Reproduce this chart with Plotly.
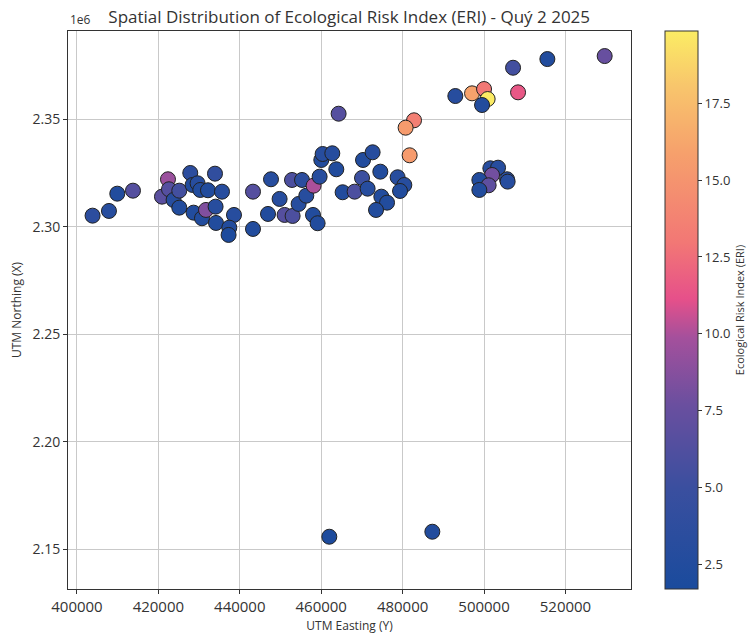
import plotly.graph_objects as go

# Sampling station coordinates (UTM) and their Ecological Risk Index values
easting = [
    403833, 407862, 409902, 413759, 422359, 420885, 422604, 423735, 425135, 425135,
    427838, 428403, 429631, 430295, 432187, 433907, 435627, 428649, 430713, 431696,
    434055, 434153, 438575, 437421, 437249, 443243, 443243,
    464275, 482801, 480737, 481720, 447666, 449779, 446929, 452826, 455283,
    451008, 452974, 454448, 456340, 458134, 459608, 457986, 459116, 460025,
    460345, 462728, 463711, 465259, 468207, 470025, 471401, 470271, 472630,
    474522, 474767, 476168, 473465, 478772, 480418, 479362,
    529633, 515553, 507126, 492949, 497052, 500000, 500885, 499509, 508354,
    501550, 503442, 501968, 498847, 505653, 501132, 498847, 505800,
    461989, 487297,
]
northing = [
    2305163, 2307350, 2315396, 2316791, 2322094, 2314001, 2317443, 2312466, 2316791, 2308885,
    2325024, 2319443, 2320234, 2317117, 2316977, 2324698, 2316326, 2306560, 2303955, 2307815,
    2309350, 2301769, 2305490, 2299583, 2296188, 2316326, 2298978,
    2352605, 2349535, 2346093, 2333256, 2322094, 2312932, 2305955, 2321768, 2321768,
    2305490, 2305025, 2310606, 2314466, 2319117, 2323303, 2305490, 2301630, 2331070,
    2333861, 2334186, 2326745, 2316047, 2316326, 2322698, 2317722, 2331070, 2334651,
    2325629, 2314001, 2311211, 2307815, 2323024, 2319443, 2316652,
    2379441, 2378046, 2373999, 2360837, 2362093, 2364093, 2359442, 2356651, 2362558,
    2327210, 2327489, 2324094, 2321768, 2322094, 2319303, 2317117, 2321000,
    2155728, 2158053,
]
eri = [
    3.5, 3.0, 2.5, 6.5, 9.5, 6.8, 6.5, 3.0, 5.5, 2.5,
    3.5, 2.5, 3.0, 2.5, 2.5, 4.0, 3.0, 2.5, 2.5, 8.5,
    3.0, 2.5, 3.0, 2.5, 2.0, 6.5, 2.5,
    6.5, 13.5, 15.5, 15.5, 3.0, 3.0, 2.5, 6.0, 3.5,
    6.5, 6.0, 3.0, 3.0, 10.0, 3.0, 2.5, 2.5, 2.5,
    3.0, 3.0, 2.5, 2.5, 6.0, 5.0, 3.0, 2.5, 3.0,
    2.5, 2.5, 2.5, 2.5, 3.0, 3.0, 2.5,
    7.5, 2.5, 5.5, 3.0, 16.0, 13.0, 19.8, 2.5, 11.5,
    3.0, 3.0, 8.0, 2.5, 3.0, 7.0, 2.5, 3.0,
    2.0, 2.5,
]

x_ticks = [400000, 420000, 440000, 460000, 480000, 500000, 520000]
y_ticks = [2.15e6, 2.20e6, 2.25e6, 2.30e6, 2.35e6]
y_tick_text = ["2.15", "2.20", "2.25", "2.30", "2.35"]
cbar_ticks = [2.5, 5.0, 7.5, 10.0, 12.5, 15.0, 17.5]

eri_scale = [
    [0.00, "#1a4b9d"],
    [0.18, "#3a4f9f"],
    [0.33, "#6a4f9f"],
    [0.45, "#a4509c"],
    [0.52, "#e6508a"],
    [0.62, "#f27775"],
    [0.78, "#f6a06c"],
    [0.90, "#f8c56c"],
    [1.00, "#fbec64"],
]

font_family = "Open Sans, Lato, DejaVu Sans, sans-serif"

fig = go.Figure(
    go.Scatter(
        x=easting,
        y=northing,
        mode="markers",
        marker=dict(
            size=15,
            color=eri,
            colorscale=eri_scale,
            cmin=1.7,
            cmax=19.85,
            line=dict(color="#222222", width=1),
            colorbar=dict(
                title=dict(text="Ecological Risk Index (ERI)", side="right",
                           font=dict(size=11, color="#333333")),
                tickvals=cbar_ticks,
                ticktext=[f"{v:.1f}" for v in cbar_ticks],
                ticks="outside",
                ticklen=4,
                tickcolor="#333333",
                tickfont=dict(size=13, color="#333333"),
                thickness=33,
                len=1.0,
                lenmode="fraction",
                x=1.061,
                xanchor="left",
                xpad=0,
                y=0.5,
                yanchor="middle",
                ypad=0,
                outlinecolor="#333333",
                outlinewidth=1,
            ),
        ),
        showlegend=False,
    )
)

axis_common = dict(
    showgrid=True,
    gridcolor="#c9c9c9",
    gridwidth=1,
    showline=True,
    linecolor="#333333",
    linewidth=1,
    mirror=True,
    ticks="outside",
    ticklen=4,
    tickcolor="#333333",
    tickfont=dict(size=14, color="#333333"),
    zeroline=False,
)

fig.update_xaxes(
    **axis_common,
    range=[397800, 536100],
    tickvals=x_ticks,
    ticktext=[str(v) for v in x_ticks],
    title=dict(text="UTM Easting (Y)", font=dict(size=12, color="#333333"), standoff=6),
)
fig.update_xaxes(tickfont=dict(size=15, color="#333333"))
fig.update_yaxes(
    **axis_common,
    range=[2.1314e6, 2.3911e6],
    tickvals=y_ticks,
    ticktext=y_tick_text,
    title=dict(text="UTM Northing (X)", font=dict(size=12, color="#333333"), standoff=8),
)

fig.add_annotation(
    text="1e6", xref="paper", yref="paper", x=0.0, y=1.0,
    xanchor="left", yanchor="bottom", showarrow=False,
    font=dict(size=12, color="#333333"), yshift=1,
)

fig.update_layout(
    width=748,
    height=634,
    paper_bgcolor="white",
    plot_bgcolor="white",
    font=dict(family=font_family, color="#333333"),
    title=dict(
        text="Spatial Distribution of Ecological Risk Index (ERI) - Quý 2 2025",
        x=(67.7 + 630.7) / 2 / 748,
        xanchor="center",
        y=1 - 17 / 634,
        yanchor="middle",
        font=dict(size=17, color="#333333"),
    ),
    margin=dict(l=68, r=117, t=31, b=45, autoexpand=False),
)

fig.write_html("out.html")
